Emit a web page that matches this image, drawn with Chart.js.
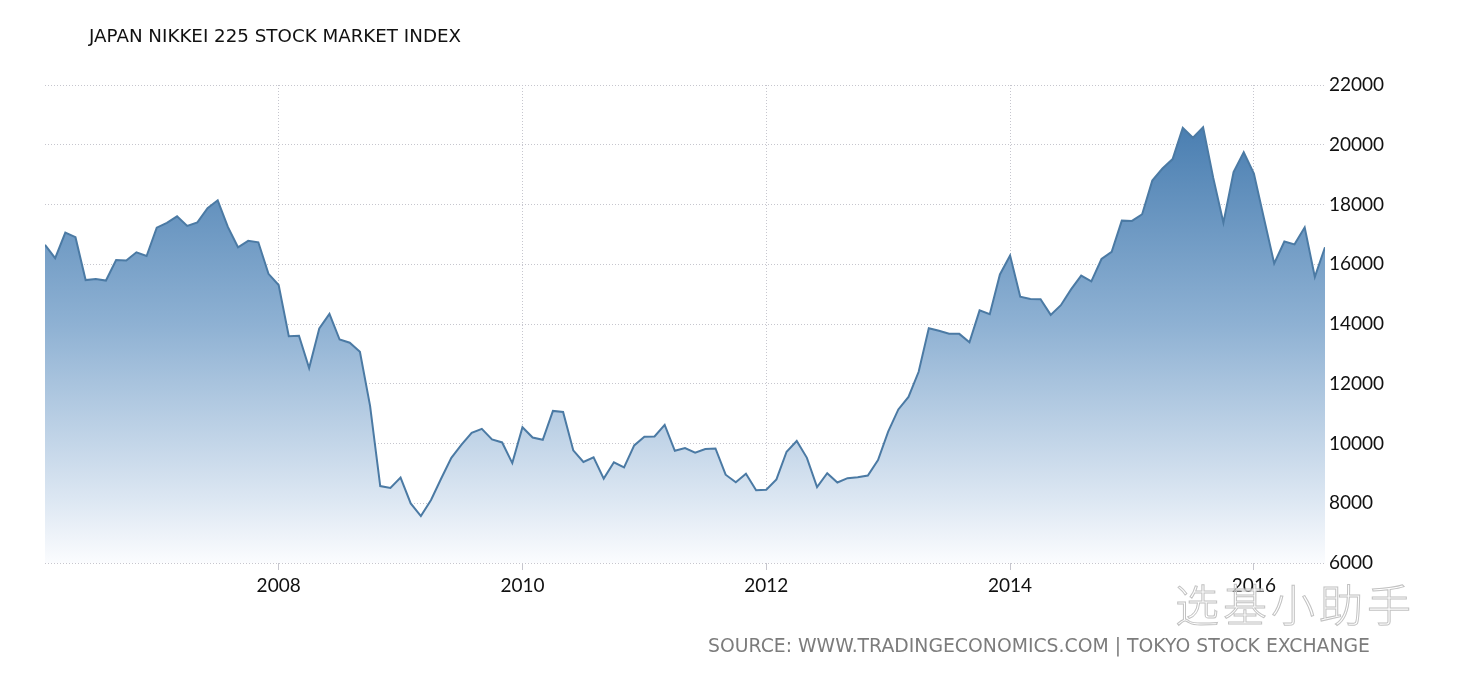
<!DOCTYPE html>
<html>
<head>
<meta charset="utf-8">
<script src="https://cdn.jsdelivr.net/npm/chart.js@4.4.1/dist/chart.umd.min.js"></script>
<style>
html, body { margin: 0; padding: 0; background: #fff; }
#wrap { position: relative; width: 1460px; height: 680px; overflow: hidden; }
#chart { position: absolute; left: 0; top: 0; }
.txt { position: absolute; white-space: nowrap; transform-origin: 0 0; }
#title { left: 89px; top: 27px; font-family: "DejaVu Sans"; font-size: 18px; line-height: 18px; color: #111; }
#source { left: 708px; top: 635px; font-family: "DejaVu Sans"; font-size: 20px; line-height: 20px; color: #7c7c7c; }
#mark { left: 1175px; top: 578px; font-family: "Noto Sans CJK SC"; font-weight: 300; font-size: 44px; line-height: 50px;
        color: rgba(255,255,255,0.6); -webkit-text-stroke: 1px #c2c2c2; letter-spacing: 4px; }
</style>
</head>
<body>
<div id="wrap">
  <canvas id="chart" width="1460" height="680"></canvas>
  <div class="txt" id="title">JAPAN NIKKEI 225 STOCK MARKET INDEX</div>
  <div class="txt" id="source">SOURCE: WWW.TRADINGECONOMICS.COM | TOKYO STOCK EXCHANGE</div>
  <div class="txt" id="mark">选基小助手</div>
</div>
<script>
// month-end closes, one array per year
var years = [2006, 2007, 2008, 2009, 2010, 2011, 2012, 2013, 2014, 2015, 2016];
var close2006 = [16650, 16205, 17060, 16905, 15470, 15505, 15455, 16140, 16125, 16400, 16275, 17225];
var close2007 = [17385, 17605, 17285, 17400, 17875, 18140, 17250, 16570, 16785, 16735, 15680, 15305];
var close2008 = [13590, 13605, 12525, 13850, 14340, 13480, 13375, 13070, 11260, 8575, 8510, 8860];
var close2009 = [7995, 7570, 8110, 8830, 9520, 9960, 10355, 10490, 10135, 10035, 9345, 10545];
var close2010 = [10200, 10125, 11090, 11055, 9770, 9380, 9535, 8825, 9370, 9200, 9935, 10230];
var close2011 = [10235, 10625, 9755, 9850, 9695, 9815, 9835, 8955, 8700, 8990, 8435, 8455];
var close2012 = [8800, 9725, 10085, 9520, 8540, 9005, 8695, 8840, 8870, 8930, 9445, 10395];
var close2013 = [11140, 11560, 12400, 13860, 13775, 13675, 13670, 13390, 14455, 14330, 15660, 16290];
var close2014 = [14915, 14840, 14830, 14305, 14630, 15160, 15620, 15425, 16175, 16415, 17460, 17450];
var close2015 = [17675, 18800, 19205, 19520, 20565, 20235, 20585, 18890, 17390, 19085, 19745, 19035];
var close2016 = [17520, 16025, 16760, 16665, 17235, 15575, 16570];

var yearTicks = [2008, 2010, 2012, 2014, 2016];
var yMin = 6000, yMax = 22000, yStep = 2000;

var closesByYear = [close2006, close2007, close2008, close2009, close2010, close2011,
                    close2012, close2013, close2014, close2015, close2016];

// each close sits at the end of its month
var points = [];
for (var i = 0; i < years.length; i++) {
    var arr = closesByYear[i];
    for (var m = 0; m < arr.length; m++) {
        points.push({x: years[i] + (m + 1) / 12, y: arr[m]});
    }
}

var fillGradient = function(ctx){
    var area = ctx.chart.chartArea;
    if (!area) return 'rgba(120,160,200,0.6)';
    var g = ctx.chart.ctx.createLinearGradient(0, area.top, 0, area.bottom);
    g.addColorStop(0, '#3c74aa');
    g.addColorStop(0.5, '#8eb1d3');
    g.addColorStop(0.875, '#dee8f3');
    g.addColorStop(1, '#fbfcfe');
    return g;
};

var tickFont = {family: 'Lato', size: 19};
var gridColor = '#c6c6ce';

var ctx = document.getElementById('chart').getContext('2d');
var chartObj = new Chart(ctx, {
    type: 'line',
    data: {
        datasets: [{
            data: points,
            borderColor: '#4b7aa4',
            borderWidth: 2,
            backgroundColor: fillGradient,
            fill: 'start',
            pointRadius: 0,
            tension: 0
        }]
    },
    options: {
        responsive: false,
        animation: false,
        layout: { padding: {left: 45, top: 85, right: 0, bottom: 0} },
        plugins: { legend: {display: false}, tooltip: {enabled: false} },
        scales: {
            x: {
                type: 'linear',
                min: points[0].x,
                max: points[points.length - 1].x,
                afterBuildTicks: function(scale){
                    scale.ticks = yearTicks.map(function(v){ return {value: v}; });
                },
                afterFit: function(scale){ scale.height = 117; },
                grid: { color: gridColor, drawTicks: true, tickLength: 7 },
                border: { display: false, dash: [1, 2] },
                ticks: {
                    font: tickFont, color: '#111', padding: 4, maxRotation: 0,
                    callback: function(v){ return String(v); }
                }
            },
            y: {
                position: 'right',
                min: yMin,
                max: yMax,
                afterFit: function(scale){ scale.width = 135; },
                grid: { color: gridColor, drawTicks: false },
                border: { display: false, dash: [1, 2] },
                ticks: {
                    stepSize: yStep, font: tickFont, color: '#111', padding: 4,
                    callback: function(v){ return String(v); }
                }
            }
        }
    }
});

var fitWidth = function(id, w){
    var el = document.getElementById(id);
    var s = w / el.getBoundingClientRect().width;
    el.style.transform = 'scaleX(' + s + ')';
};
fitWidth('title', 372);
fitWidth('source', 662);
</script>
</body>
</html>
